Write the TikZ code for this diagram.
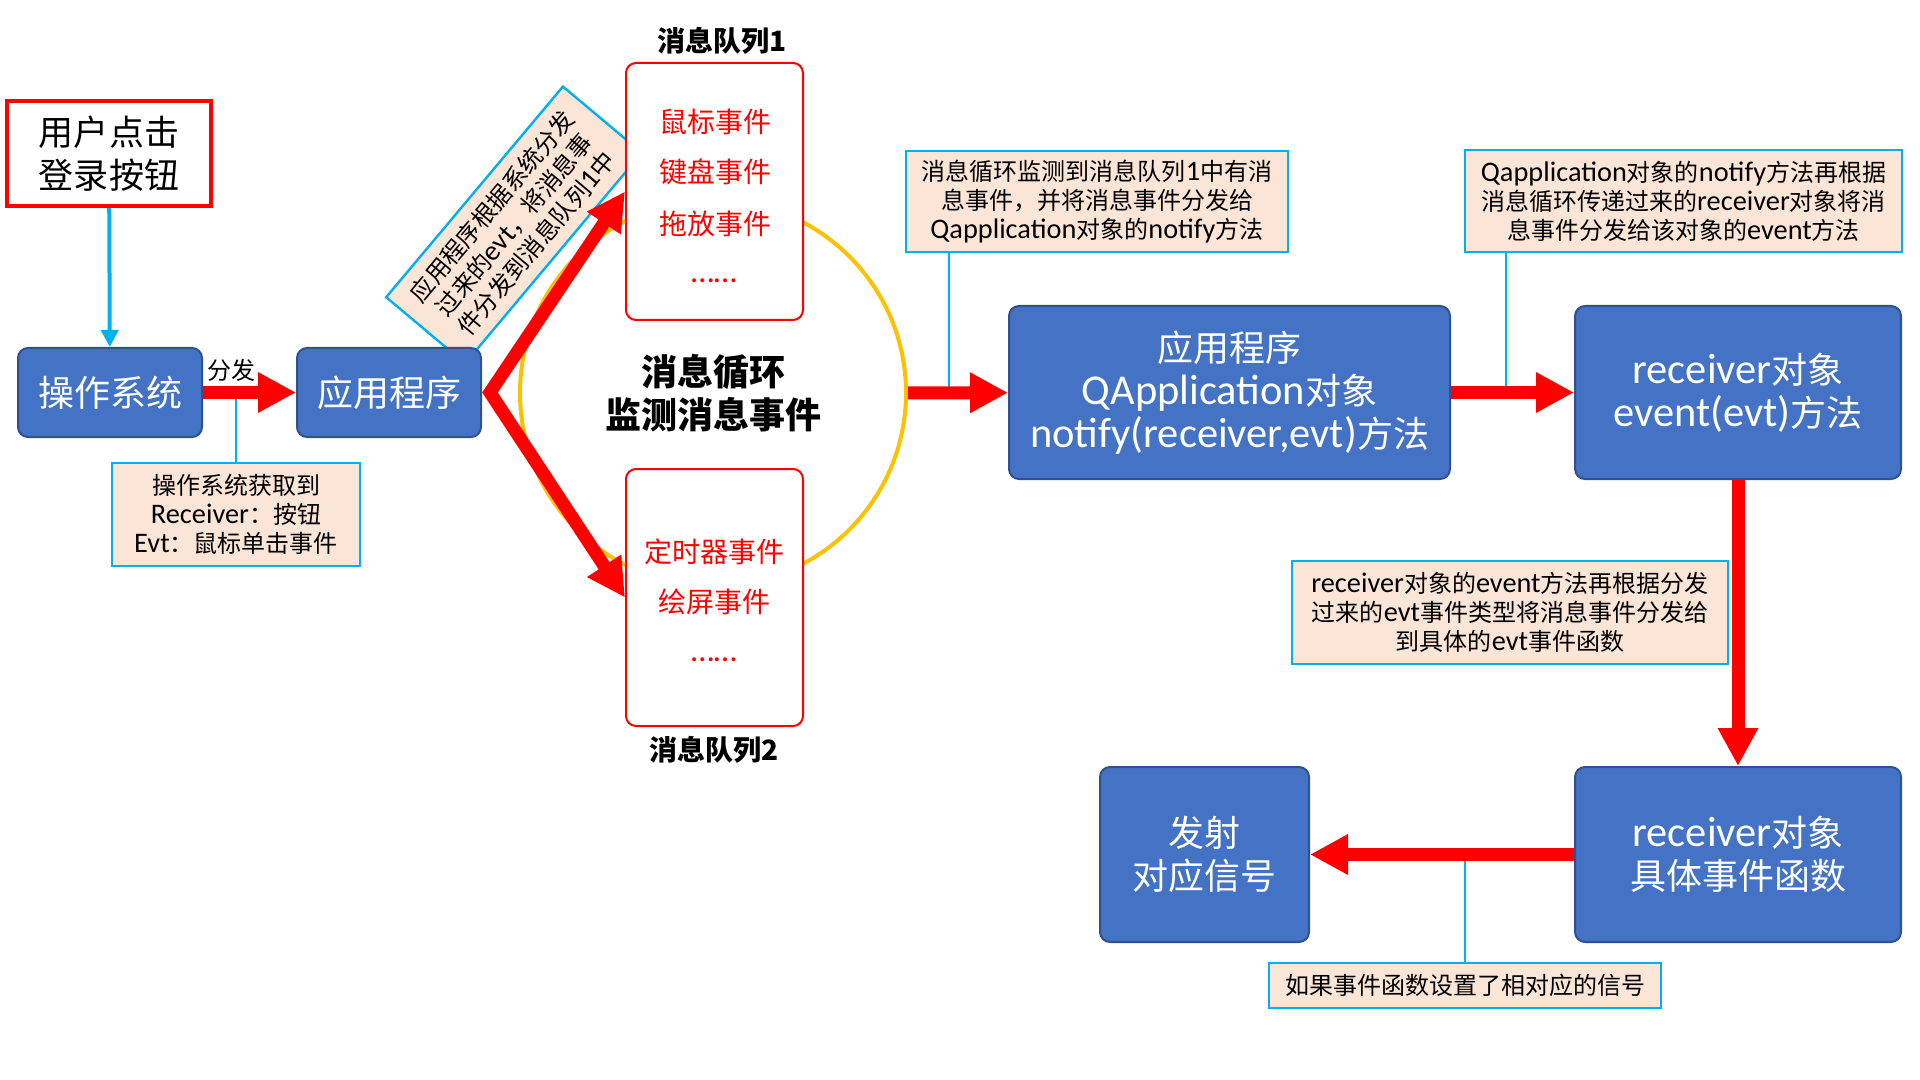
\documentclass[tikz,border=0pt]{standalone}
\usepackage{fontspec}
\setmainfont{Noto Sans CJK SC}
\newfontfamily\lat[Scale=1.18]{Carlito}
\usetikzlibrary{arrows.meta}

\definecolor{boxblue}{HTML}{4472C4}
\definecolor{boxline}{HTML}{2F528F}
\definecolor{memofill}{HTML}{FBE5D6}
\definecolor{tiecyan}{HTML}{00B0F0}
\definecolor{loopyellow}{HTML}{FFC000}

\tikzset{
  sysbox/.style={rectangle, rounded corners=5pt, draw=boxline, line width=1pt,
    fill=boxblue, text=white, align=center, inner sep=0pt,
    font=\fontsize{18pt}{21.5pt}\selectfont},
  entry/.style={rectangle, draw=red, line width=2pt, fill=white, align=center,
    font=\fontsize{17.5pt}{21.5pt}\selectfont},
  memo/.style={rectangle, draw=tiecyan, line width=1.2pt, fill=memofill,
    align=center, inner sep=0pt, font=\fontsize{12pt}{14.5pt}\selectfont},
  queue/.style={rectangle, rounded corners=5pt, draw=red, line width=1pt,
    fill=white, minimum width=88.5pt, minimum height=128.5pt},
  evtitem/.style={text=red, inner sep=0pt, font=\fontsize{14pt}{16pt}\selectfont},
  qtitle/.style={inner sep=0pt, font=\bfseries\fontsize{14pt}{16pt}\selectfont},
  flow/.style={draw=red, line width=6.5pt, -{Triangle[width=19pt,length=19pt]}},
  tie/.style={draw=tiecyan, line width=1.2pt},
}

\begin{document}
\begin{tikzpicture}[x=0.5pt,y=-0.5pt]
    \useasboundingbox (0,0) rectangle (1920,1080);

    % Message loop and the two queues
    \node[circle, draw=loopyellow, line width=2pt, minimum size=193pt, inner sep=0pt,
      align=center, font=\bfseries\fontsize{18pt}{21.5pt}\selectfont]
      (loop) at (713,393) {消息循环\\监测消息事件};
    \node[memo, rotate=50, minimum width=137.5pt, minimum height=51.5pt] (route) at (514,225)
      {应用程序根据系统分发\\过来的{\lat evt}，将消息事\\件分发到消息队列{\lat 1}中};
    \node[queue] (q1) at (714.5,191.5) {};
    \node[queue] (q2) at (714.5,597.5) {};
    \node[qtitle] (q1title) at (722,41) {消息队列1};
    \node[qtitle] (q2title) at (714,750) {消息队列2};
    \foreach \name/\y in {鼠标事件/122, 键盘事件/172, 拖放事件/224}
      \node[evtitem] at (715,\y) {\name};
    \node[evtitem] (q1more) at (714,281) {\lat ……};
    \node[evtitem] (q2a) at (714.5,552) {定时器事件};
    \node[evtitem] (q2b) at (714.5,602) {绘屏事件};
    \node[evtitem] (q2more) at (714,660) {\lat ……};

    % User side
    \node[entry, minimum width=102pt, minimum height=52.5pt] (user) at (109,153.5) {用户点击\\登录按钮};
    \node[sysbox, minimum width=92pt, minimum height=44.5pt] (os) at (110,392.5) {操作系统};
    \node[sysbox, minimum width=92pt, minimum height=44.5pt] (app) at (389,392.5) {应用程序};
    \node[memo, minimum width=124pt, minimum height=51.5pt] (osnote) at (236,514.5)
      {操作系统获取到\\{\lat Receiver}：按钮\\{\lat Evt}：鼠标单击事件};
    \node[inner sep=0pt, font=\fontsize{12pt}{14pt}\selectfont] (fenfa) at (231,370) {分发};

    \draw[tie, line width=2pt, -{Triangle[width=8.5pt,length=8.5pt]}] (user) -- (os);
    \draw[tie] (osnote) -- (osnote |- os.east);
    \draw[flow] (os) -- (app);

    % Dispatch into the queues
    \draw[flow, {Triangle[width=19pt,length=19pt]}-{Triangle[width=19pt,length=19pt]}]
      (q1.west) -- ([xshift=4pt]app.east) -- (q2.west);

    % QApplication and receiver
    \node[sysbox, minimum width=220.5pt, minimum height=86.5pt] (app2) at (1229.5,392.5)
      {应用程序\\{\lat QApplication}对象\\{\lat notify(receiver,evt)}方法};
    \node[sysbox, minimum width=163pt, minimum height=86.5pt] (recv1) at (1738,392.5)
      {{\lat receiver}对象\\{\lat event(evt)}方法};
    \node[sysbox, minimum width=163pt, minimum height=87.5pt] (recv2) at (1738,854.5)
      {{\lat receiver}对象\\具体事件函数};
    \node[sysbox, minimum width=104.5pt, minimum height=87.5pt] (emit) at (1204.5,854.5)
      {发射\\对应信号};

    \node[memo, minimum width=191pt, minimum height=50.5pt] (note1) at (1097,201.5)
      {消息循环监测到消息队列{\lat 1}中有消\\息事件，并将消息事件分发给\\{\lat Qapplication}对象的{\lat notify}方法};
    \node[memo, minimum width=218.5pt, minimum height=51pt] (note2) at (1683.5,201)
      {{\lat Qapplication}对象的{\lat notify}方法再根据\\消息循环传递过来的{\lat receiver}对象将消\\息事件分发给该对象的{\lat event}方法};
    \node[memo, minimum width=218pt, minimum height=51.5pt] (note3) at (1510,612.5)
      {{\lat receiver}对象的{\lat event}方法再根据分发\\过来的{\lat evt}事件类型将消息事件分发给\\到具体的{\lat evt}事件函数};
    \node[memo, minimum width=196pt, minimum height=22.5pt] (note4) at (1465,985.5)
      {如果事件函数设置了相对应的信号};

    \coordinate (n1foot) at ([xshift=22pt]note1.south west);
    \coordinate (n2foot) at ([xshift=21pt]note2.south west);
    \draw[tie] (n1foot) -- (n1foot |- loop.east);
    \draw[tie] (n2foot) -- (n2foot |- recv1.west);
    \draw[tie] (note4) -- (note4 |- recv2.west);

    \draw[flow] (loop) -- (app2);
    \draw[flow] (app2) -- (recv1);
    \draw[flow] (recv1) -- (recv2);
    \draw[flow] (recv2) -- (emit);
\end{tikzpicture}
\end{document}
